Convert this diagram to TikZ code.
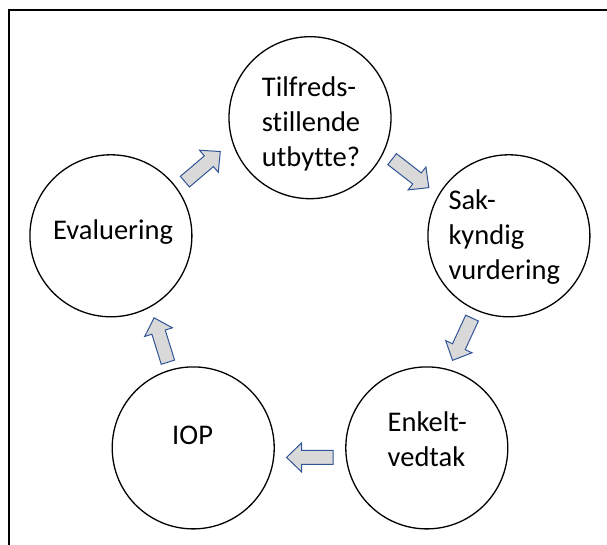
\documentclass[tikz,border=0pt]{standalone}
\usepackage{fontspec}
\setmainfont{Carlito}[Ligatures=CommonOff]
\definecolor{arrowfill}{RGB}{217,217,217}
\definecolor{arrowline}{RGB}{47,85,151}
\tikzset{
  cyclecircle/.style={circle, draw=black, line width=1.3pt, minimum size=162pt, inner sep=0pt},
  cyclelabel/.style={anchor=base west, inner sep=0pt, align=left, font=\fontsize{28.5}{35}\selectfont},
  blockarrow/.style={fill=arrowfill, draw=arrowline, line width=1pt, line join=miter},
  frameline/.style={line width=2pt, black}
}
\newcommand{\myblockarrow}[3]{%
  \begin{scope}[shift={(#1,#2)}, rotate=#3]
    \draw[blockarrow] (-23.25,-7) -- (8.25,-7) -- (8.25,-14.5) -- (23.25,0)
      -- (8.25,14.5) -- (8.25,7) -- (-23.25,7) -- cycle;
  \end{scope}}
\begin{document}
\begin{tikzpicture}[x=1pt, y=-1pt]
  \useasboundingbox (0,0) rectangle (607,545);
  % frame (only top and left edges are visible)
  \coordinate (fbl) at (8.5,560);
  \coordinate (ftl) at (8.5,10.5);
  \coordinate (ftr) at (620,10.5);
  \draw[frameline] (fbl) -- (ftl) -- (ftr);
  % circles
  \node[cyclecircle] (top) at (310,117.7) {};
  \node[cyclecircle] (right) at (508.9,235.8) {};
  \node[cyclecircle] (bright) at (426.8,447.9) {};
  \node[cyclecircle] (bleft) at (193.2,447.9) {};
  \node[cyclecircle] (left) at (110.9,235.8) {};
  % labels (base anchor = baseline of the last line)
  \node[cyclelabel] (ttop) at (261.7,166.7) {Tilfreds-\\stillende\\utbytte?};
  \node[cyclelabel] (tright) at (448.3,279.5) {Sak-\\kyndig\\vurdering};
  \node[cyclelabel] (tbright) at (387.5,466.7) {Enkelt-\\vedtak};
  \node[cyclelabel] (tbleft) at (172,444) {IOP};
  \node[cyclelabel] (tleft) at (53,240) {Evaluering};
  % block arrows
  \myblockarrow{202.6}{166.6}{40.4}
  \myblockarrow{410.5}{173.4}{-37.8}
  \myblockarrow{462.3}{339.2}{-114.8}
  \myblockarrow{309.8}{457.4}{180}
  \myblockarrow{161}{340}{107.3}
\end{tikzpicture}
\end{document}
